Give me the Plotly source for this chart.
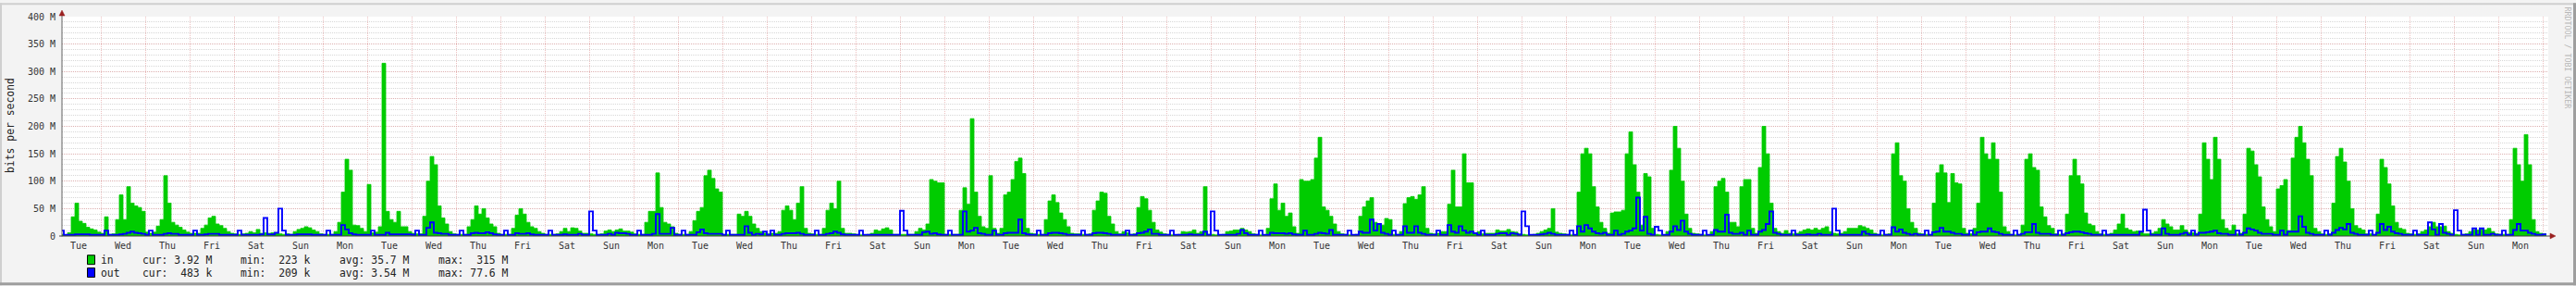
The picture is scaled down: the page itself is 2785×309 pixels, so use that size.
import plotly.graph_objects as go

# ---------------- data (values in M bits/s, 2-hour steps from Tue 00:00) ----------------
in_week1 = [3,3,2,6,35,60,27,23,16,13,11,7,
            5,35,3,4,30,75,30,90,60,55,52,45,
            7,5,7,18,30,110,60,25,20,16,11,7,
            5,5,5,14,20,33,36,22,19,14,8,5,
            4,3,4,5,8,6,12,5,6,5,6,5,
            4,3,4,3,8,12,14,17,15,11,8,4,
            3,3,3,8,25,80,140,120,20,19,14,8]
in_week2 = [94,6,7,17,315,45,30,25,45,17,17,8,
            5,4,4,36,100,145,130,55,33,22,8,4,
            3,3,3,17,30,55,40,50,33,22,17,5,
            3,3,3,14,38,50,40,25,17,14,8,5,
            3,3,3,4,8,14,8,15,14,9,5,5,
            4,3,3,4,9,11,8,11,13,9,9,7,
            4,3,3,25,45,45,115,52,25,22,17,5]
in_week3 = [3,3,3,8,28,45,52,110,120,105,86,80,
            3,3,3,3,40,36,45,36,22,14,8,5,
            4,5,5,8,47,55,47,30,60,90,14,5,
            4,3,3,14,47,60,50,100,14,5,5,4,
            3,2,2,3,5,11,9,13,15,11,3,3,
            3,3,3,3,8,14,11,22,103,100,97,97,
            3,3,3,3,47,88,58,214,80,36,17,14]
in_week4 = [110,14,5,14,75,80,103,136,142,114,14,5,
            4,3,3,30,64,75,61,42,30,17,5,4,
            4,3,3,4,47,64,80,78,36,22,8,4,
            8,6,3,4,52,72,68,47,25,11,7,4,
            3,2,2,3,8,7,8,11,5,8,90,3,
            3,2,2,3,8,9,11,11,14,11,8,4,
            3,2,2,14,68,95,47,60,36,42,17,5]
in_week5 = [103,100,100,103,142,180,53,47,36,22,8,4,
            3,2,2,3,36,53,64,70,25,22,20,32,
            30,3,3,8,59,70,72,67,75,90,14,5,
            4,5,8,8,58,120,53,53,150,97,97,5,
            8,4,5,5,5,11,9,9,12,8,7,4,
            3,2,2,3,5,8,11,14,50,7,5,4,
            3,2,2,80,150,160,150,90,53,25,14,5]
in_week6 = [42,44,44,47,150,190,130,80,20,114,108,14,
            3,2,2,8,120,200,160,100,40,14,5,4,
            3,2,2,8,90,100,105,80,25,25,17,90,
            103,103,14,5,125,200,150,60,14,8,5,10,
            5,4,5,8,11,13,11,14,11,14,17,8,
            5,4,5,8,14,14,14,19,17,14,11,5,
            3,2,3,4,150,170,110,100,50,25,14,5]
in_week7 = [4,3,3,60,115,130,115,61,114,97,95,14,
            5,4,14,60,180,150,140,170,140,80,17,8,
            3,2,3,20,140,150,125,120,53,35,19,14,
            4,3,4,40,110,140,110,95,42,22,19,8,
            4,3,3,5,11,22,40,14,11,8,9,8,
            4,4,5,8,14,30,22,17,11,11,19,11,
            6,6,5,40,170,140,103,180,140,30,14,10]
in_week8 = [20,4,5,40,160,155,130,108,53,30,17,8,
            86,92,103,10,142,180,200,170,140,110,14,8,
            4,3,4,60,145,160,135,100,50,19,14,11,
            4,4,3,40,140,125,95,55,25,14,12,5,
            4,3,4,8,11,17,25,17,17,18,8,5,
            3,2,3,4,8,11,11,14,11,14,8,4,
            3,3,3,30,160,130,100,185,130,30,8,5]
in_tail = [4]

out_week1 = [2,10,2,2,2,3,3,3,3,2,2,2,
             2,10,2,2,2,3,4,6,8,6,5,4,
             2,10,2,2,2,4,5,4,4,2,2,2,
             2,10,2,2,3,4,4,4,2,2,2,2,
             2,10,2,2,2,2,2,3,33,3,3,6,
             50,10,2,2,2,3,3,3,3,2,2,2,
             2,10,2,2,2,20,12,5,3,2,2,2]
out_week2 = [2,10,2,2,2,6,3,3,3,3,3,3,
             2,10,2,2,15,25,6,5,4,4,2,2,
             2,10,2,2,5,6,5,5,7,5,3,2,
             2,10,2,2,5,4,4,5,3,2,2,2,
             2,10,2,2,2,3,2,2,2,4,2,2,
             45,10,2,2,2,4,2,6,5,5,4,2,
             2,10,2,2,2,4,40,4,4,4,15,2]
out_week3 = [2,10,2,2,2,7,12,5,4,4,4,4,
             2,10,2,2,2,2,18,6,2,4,3,8,
             2,10,2,2,4,5,5,5,6,4,2,2,
             2,10,2,2,4,5,8,6,3,2,2,2,
             2,10,2,2,2,2,2,2,2,2,2,2,
             46,10,2,2,2,2,7,8,4,5,3,2,
             2,10,2,2,2,45,8,10,15,5,4,2]
out_week4 = [2,10,2,2,5,6,6,6,30,5,3,2,
             2,10,2,2,5,6,6,5,4,2,2,2,
             2,10,2,2,5,6,6,5,4,2,2,2,
             2,10,2,2,5,6,8,12,4,4,2,2,
             2,10,2,2,2,2,3,2,2,2,8,2,
             45,10,2,2,2,2,2,4,11,5,2,2,
             2,10,2,2,6,5,5,5,4,5,3,2]
out_week5 = [2,10,2,2,4,6,5,4,11,2,2,2,
             2,10,2,2,8,6,6,30,10,22,6,4,
             2,10,2,2,18,6,6,18,6,4,2,2,
             2,10,2,2,20,8,6,18,10,6,8,5,
             2,10,2,2,2,4,5,5,2,5,4,2,
             45,18,2,2,2,3,4,6,4,2,2,2,
             2,10,2,18,8,20,14,8,5,4,6,2]
out_week6 = [2,10,2,4,8,10,14,70,10,35,4,2,
             17,10,2,2,8,18,11,28,8,4,2,2,
             2,10,2,2,11,8,8,39,6,4,4,6,
             2,10,2,2,8,11,22,45,6,4,2,2,
             2,10,2,2,2,3,2,2,4,2,2,2,
             50,10,2,2,2,2,2,2,8,4,2,2,
             2,10,2,2,16,8,12,6,4,2,4,2]
out_week7 = [2,10,2,7,8,15,8,8,6,4,4,2,
             2,10,2,7,8,8,14,8,7,4,2,2,
             2,10,2,4,7,7,22,6,4,4,4,2,
             2,10,2,5,7,8,8,7,5,4,2,2,
             2,10,2,2,2,2,2,2,2,2,2,8,
             48,10,2,2,2,14,4,2,2,2,4,6,
             2,10,2,6,6,7,8,10,5,4,4,2]
out_week8 = [2,10,2,6,14,12,10,6,4,4,4,2,
             2,10,2,8,8,8,36,17,6,4,2,2,
             2,10,2,6,11,15,12,22,6,4,2,2,
             2,10,2,6,22,11,17,8,5,4,2,2,
             2,10,2,2,2,25,12,2,22,6,4,2,
             47,10,2,2,2,14,2,14,2,2,4,2,
             2,10,2,2,11,22,10,10,6,4,2,2]
out_tail = [3]

day_labels = ["Tue", "Wed", "Thu", "Fri", "Sat", "Sun", "Mon"] * 8
y_tick_vals = [0, 50, 100, 150, 200, 250, 300, 350, 400]
y_tick_text = ["0", "50 M", "100 M", "150 M", "200 M", "250 M", "300 M", "350 M", "400 M"]
legend_names = ["in", "out"]
legend_cur = ["cur: 3.92 M", "cur:  483 k"]
legend_min = ["min:  223 k", "min:  209 k"]
legend_avg = ["avg: 35.7 M", "avg: 3.54 M"]
legend_max = ["max:  315 M", "max: 77.6 M"]

# ---------------- build ----------------
inbound = (in_week1 + in_week2 + in_week3 + in_week4 + in_week5 + in_week6
           + in_week7 + in_week8 + in_tail)
outbound = (out_week1 + out_week2 + out_week3 + out_week4 + out_week5 + out_week6
            + out_week7 + out_week8 + out_tail)
STEP = 2
hours = [STEP * i for i in range(len(inbound))]
xs = hours + [hours[-1] + STEP]
in_y = inbound + [inbound[-1]]
out_y = outbound + [outbound[-1]]

W, H = 2785, 309
L, R, T, B = 67, 2755, 15, 255
X0, X1 = 3, 3 + 56 * 24


def px(x):
    return (x - L) / (R - L)


def py(y):
    return (B - y) / (B - T)


GREEN = "#00CC00"
BLUE = "#0000FF"
MONO = "DejaVu Sans Mono"

fig = go.Figure()
fig.add_trace(go.Scatter(x=xs, y=in_y, mode="lines", line=dict(shape="hv", width=0.8, color=GREEN),
                         fill="tozeroy", fillcolor=GREEN, hoverinfo="skip", showlegend=False))
fig.add_trace(go.Scatter(x=xs, y=out_y, mode="lines", line=dict(shape="hv", width=1.9, color=BLUE),
                         hoverinfo="skip", showlegend=False))

MAJ = "rgba(225,150,150,0.6)"
MIN = "rgba(175,175,175,0.5)"

fig.update_xaxes(range=[X0, X1], tickmode="array", tickvals=[12 + 24 * j for j in range(len(day_labels))],
                 ticktext=day_labels, showgrid=False, zeroline=False, showline=False, ticks="",
                 tickfont=dict(family=MONO, size=10, color="#333333"), ticklabelstandoff=3,
                 minor=dict(tick0=0, dtick=24, showgrid=True, gridcolor=MAJ, griddash="1px,1px", gridwidth=1))
fig.update_yaxes(range=[0, 400], tickmode="array", tickvals=y_tick_vals, ticktext=y_tick_text,
                 showgrid=True, gridcolor=MAJ, griddash="1px,1px", gridwidth=1, zeroline=False,
                 showline=False, ticks="", ticklabelstandoff=6,
                 tickfont=dict(family=MONO, size=10, color="#333333"),
                 minor=dict(dtick=10, showgrid=True, gridcolor=MIN, griddash="1px,1px", gridwidth=1))

shapes = []
# frame of the image
shapes.append(dict(type="rect", xref="paper", yref="paper", x0=px(0), x1=px(W), y0=py(0), y1=py(2),
                   fillcolor="#CFCFCF", line=dict(width=0), layer="above"))
shapes.append(dict(type="rect", xref="paper", yref="paper", x0=px(0), x1=px(2), y0=py(0), y1=py(H),
                   fillcolor="#CFCFCF", line=dict(width=0), layer="above"))
shapes.append(dict(type="rect", xref="paper", yref="paper", x0=px(0), x1=px(W), y0=py(H - 3), y1=py(H),
                   fillcolor="#9E9E9E", line=dict(width=0), layer="above"))
shapes.append(dict(type="rect", xref="paper", yref="paper", x0=px(W - 3), x1=px(W), y0=py(0), y1=py(H),
                   fillcolor="#9E9E9E", line=dict(width=0), layer="above"))
# axes
shapes.append(dict(type="line", xref="paper", yref="paper", x0=px(67), x1=px(67), y0=py(255.5), y1=py(12),
                   line=dict(color="#606060", width=1), layer="above"))
shapes.append(dict(type="line", xref="paper", yref="paper", x0=px(64), x1=px(2758), y0=py(255), y1=py(255),
                   line=dict(color="#404040", width=1), layer="above"))
# arrows
shapes.append(dict(type="path", xref="paper", yref="paper",
                   path=f"M {px(64)},{py(14)} L {px(70)},{py(14)} L {px(67)},{py(8)} Z",
                   fillcolor="#9A2020", line=dict(color="#9A2020", width=0.5), layer="above"))
shapes.append(dict(type="path", xref="paper", yref="paper",
                   path=f"M {px(2757)},{py(252)} L {px(2757)},{py(258)} L {px(2763)},{py(255)} Z",
                   fillcolor="#9A2020", line=dict(color="#9A2020", width=0.5), layer="above"))
# legend boxes
box_colors = [GREEN, BLUE]
row_y = [281, 295]
for c, ry in zip(box_colors, row_y):
    shapes.append(dict(type="rect", xref="paper", yref="paper", x0=px(94.5), x1=px(102.5),
                       y0=py(ry - 5), y1=py(ry + 5), fillcolor=c,
                       line=dict(color="#000000", width=1), layer="above"))

annotations = []
cols = [(109, legend_names), (153.5, legend_cur), (260, legend_min), (367, legend_avg), (474, legend_max)]
for i, ry in enumerate(row_y):
    for cx, arr in cols:
        annotations.append(dict(xref="paper", yref="paper", x=px(cx - 1), y=py(ry), xanchor="left",
                                yanchor="middle", text=arr[i].replace(" ", "&nbsp;"), showarrow=False,
                                borderpad=0, font=dict(family=MONO, size=11.4, color="#222222")))
annotations.append(dict(xref="paper", yref="paper", x=px(10.5), y=py(134), text="bits per second",
                        textangle=-90, showarrow=False, xanchor="center", yanchor="middle",
                        font=dict(family=MONO, size=11.4, color="#222222")))
annotations.append(dict(xref="paper", yref="paper", x=px(2776), y=py(60), text="RRDTOOL / TOBI OETIKER",
                        textangle=90, showarrow=False, xanchor="center", yanchor="middle",
                        font=dict(family=MONO, size=8.3, color="#B8B8B8")))

fig.update_layout(width=W, height=H, autosize=False,
                  margin=dict(l=L, r=W - R, t=T, b=H - B, pad=0),
                  paper_bgcolor="#F3F3F3", plot_bgcolor="#FFFFFF",
                  shapes=shapes, annotations=annotations, showlegend=False)

fig.write_html("out.html")
